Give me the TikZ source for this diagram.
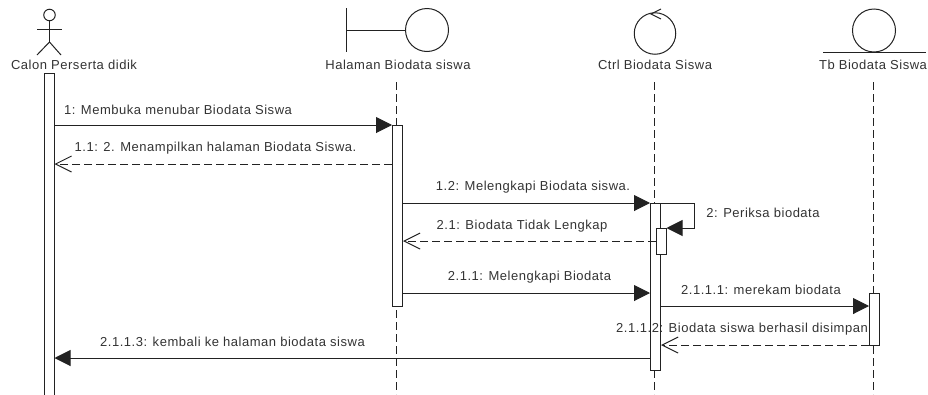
\documentclass[tikz,border=0pt]{standalone}
\usepackage{fontspec}
\setmainfont[LetterSpace=4]{Liberation Sans}
\usetikzlibrary{arrows.meta}
\definecolor{umlline}{HTML}{222222}
\definecolor{umltext}{HTML}{333333}
\tikzset{
	lifeline/.style={draw=umlline,line width=1pt,dash pattern=on 8pt off 4pt},
	bar/.style={rectangle,draw=umlline,fill=white,line width=1pt,minimum width=10pt,inner sep=0pt,anchor=north},
	callmsg/.style={draw=umlline,line width=1pt,-{Triangle[length=16pt,width=16pt]}},
	replymsg/.style={draw=umlline,line width=1pt,dash pattern=on 8pt off 4pt,-{Straight Barb[length=16pt,width=16pt]}},
	icon/.style={draw=umlline,line width=1pt},
	iconcircle/.style={circle,draw=umlline,line width=1pt,inner sep=0pt},
	objlabel/.style={text=umltext,font=\fontsize{13}{15}\selectfont,inner sep=0pt},
	msglabel/.style={text=umltext,font=\fontsize{13}{15}\selectfont,inner sep=0pt}
}
\begin{document}
\begin{tikzpicture}[x=1pt,y=-1pt]
		\useasboundingbox (0,0) rectangle (928,394);
		% heads
		\node[iconcircle,minimum size=11.5pt] (headCalon) at (49.5,15) {};
		\draw[icon] (headCalon.south) -- (49.5,42) coordinate (hipCalon);
		\draw[icon] (37,29) coordinate (armL) -- (62,29) coordinate (armR);
		\draw[icon] (37,55) coordinate (legL) -- (hipCalon) -- (61,55) coordinate (legR);
		\node[iconcircle,minimum size=43pt] (headHalaman) at (427,30) {};
		\draw[icon] (346,8) coordinate (wallTop) -- (346,52) coordinate (wallBot);
		\draw[icon] (346,30) coordinate (wallMid) -- (headHalaman.west);
		\node[iconcircle,minimum size=41.5pt] (headCtrl) at (655,33.5) {};
		\draw[icon] (661,9) coordinate (tipA) -- (651,14) coordinate (tipM) -- (661,19) coordinate (tipB);
		\node[iconcircle,minimum size=43pt] (headTb) at (874,30.5) {};
		\draw[icon] (823,52) coordinate (baseL) -- (926,52) coordinate (baseR);
		% names
		\node[objlabel] (nameCalon) at (74,65) {Calon Perserta didik};
		\node[objlabel] (nameHalaman) at (398,65) {Halaman Biodata siswa};
		\node[objlabel] (nameCtrl) at (655,65) {Ctrl Biodata Siswa};
		\node[objlabel] (nameTb) at (873,65) {Tb Biodata Siswa};
		% lifelines
		\coordinate (topHalaman) at (396,82);
		\coordinate (topCtrl) at (654,82);
		\coordinate (topTb) at (873,82);
		\coordinate (endHalaman) at (396,394);
		\coordinate (endCtrl) at (654,394);
		\coordinate (endTb) at (873,394);
		\draw[lifeline] (topHalaman) -- (endHalaman);
		\draw[lifeline] (topCtrl) -- (endCtrl);
		\draw[lifeline] (topTb) -- (endTb);
		% activations
		\node[bar,minimum height=330pt] (barCalon) at (49,73) {};
		\node[bar,minimum height=181pt] (barHalaman) at (397.5,125) {};
		\node[bar,minimum height=167pt] (barCtrl) at (655.5,203) {};
		\node[bar,minimum height=26pt] (barSelf) at (661,228) {};
		\node[bar,minimum height=52pt] (barTb) at (874.5,293) {};
		% messages
		\draw[callmsg] (barCalon.east |- 0,125) -- (barHalaman.west |- 0,125);
		\draw[replymsg] (barHalaman.west |- 0,164) -- (barCalon.east |- 0,164);
		\draw[callmsg] (barHalaman.east |- 0,203) -- (barCtrl.west |- 0,203);
		\draw[callmsg] (barCtrl.north east) -- (694,203) coordinate (selfA) -- (694,228) coordinate (selfB) -- (barSelf.north east);
		\draw[replymsg] (barSelf.west |- 0,241) -- (barHalaman.east |- 0,241);
		\draw[callmsg] (barHalaman.east |- 0,293) -- (barCtrl.west |- 0,293);
		\draw[callmsg] (barCtrl.east |- 0,306) -- (barTb.west |- 0,306);
		\draw[replymsg] (barTb.west |- 0,345) -- (barCtrl.east |- 0,345);
		\draw[callmsg] (barCtrl.west |- 0,358) -- (barCalon.east |- 0,358);
		% labels
		\node[msglabel] (lblOne) at (178,110) {1: Membuka menubar Biodata Siswa};
		\node[msglabel] (lblOneOne) at (215.5,148) {1.1: 2. Menampilkan halaman Biodata Siswa.};
		\node[msglabel] (lblOneTwo) at (533,187.5) {1.2: Melengkapi Biodata siswa.};
		\node[msglabel] (lblTwo) at (763,213) {2: Periksa biodata};
		\node[msglabel] (lblTwoOne) at (522,226.5) {2.1: Biodata Tidak Lengkap};
		\node[msglabel] (lblTwoOneOne) at (529.5,277) {2.1.1: Melengkapi Biodata};
		\node[msglabel] (lblMerekam) at (761,290) {2.1.1.1: merekam biodata};
		\node[msglabel] (lblSimpan) at (742,329) {2.1.1.2: Biodata siswa berhasil disimpan};
		\node[msglabel] (lblKembali) at (232.5,342) {2.1.1.3: kembali ke halaman biodata siswa};
	\end{tikzpicture}
\end{document}
